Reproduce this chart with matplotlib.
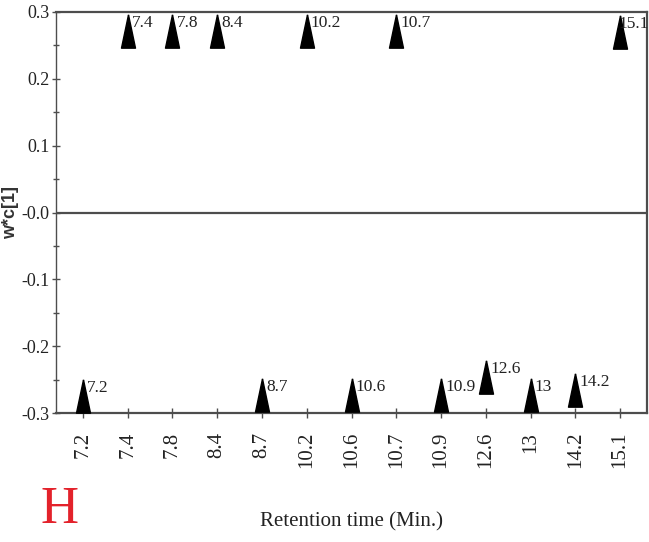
import numpy as np
import matplotlib.pyplot as plt
from matplotlib.ticker import MultipleLocator

# retention times (categories) and their w*c[1] loadings
times = ["7.2", "7.4", "7.8", "8.4", "8.7", "10.2", "10.6",
         "10.7", "10.9", "12.6", "13", "14.2", "15.1"]
loadings = [-0.274, 0.272, 0.271, 0.272, -0.273, 0.272, -0.273,
            0.272, -0.273, -0.246, -0.273, -0.265, 0.270]

serif = "Liberation Serif"
spine_col = "#4d4d4d"

fig = plt.figure(figsize=(6.49, 5.42), dpi=100)
ax = fig.add_axes([56 / 649, 1 - 413 / 542, 591 / 649, 401 / 542])

x = np.arange(len(times))

# tall narrow triangle marker
tri = [(0, 1), (-0.42, -1), (0.42, -1), (0, 1)]
ax.plot(x, loadings, linestyle="none", marker=tri, markersize=24,
        color="black", zorder=3)

for xi, val, lab in zip(x, loadings, times):
    dx = 3 if xi < len(times) - 1 else -1.5   # last one sits against the right spine
    ax.annotate(lab, (xi, val), xytext=(dx, 11.5), textcoords="offset points",
                ha="left", va="top", fontsize=12.5, family=serif,
                color="#222222", zorder=4)

ax.axhline(0, color=spine_col, lw=1.6, zorder=1)

ax.set_xlim(-0.6, 12.6)
ax.set_ylim(-0.3, 0.3)

ax.set_xticks(x)
ax.set_xticklabels(times, rotation=90, fontsize=15, family=serif)
ax.yaxis.set_major_locator(MultipleLocator(0.1))
ax.yaxis.set_minor_locator(MultipleLocator(0.05))
ax.set_yticks([0.3, 0.2, 0.1, 0.0, -0.1, -0.2, -0.3])
ax.set_yticklabels(["0.3", "0.2", "0.1", "-0.0", "-0.1", "-0.2", "-0.3"],
                   fontsize=13, family=serif)

ax.tick_params(axis="x", direction="inout", length=7, width=1, colors=spine_col,
               pad=10, labelcolor="#222222")
ax.tick_params(axis="y", which="major", direction="inout", length=6, width=1,
               colors=spine_col, pad=1.5, labelcolor="#222222")
ax.tick_params(axis="y", which="minor", direction="inout", length=4, width=1,
               colors=spine_col)

for s in ax.spines.values():
    s.set_color(spine_col)
    s.set_linewidth(1.6)
ax.spines["left"].set_linewidth(1.0)

ax.set_ylabel("w*c[1]", fontsize=13, fontweight="bold", family="Liberation Sans",
              color="#333333")
ax.yaxis.set_label_coords(-0.063, 0.5)

fig.text(352 / 649, 1 - 522 / 542, "Retention time (Min.)", ha="center",
         va="center", fontsize=15, family=serif, color="#222222")
fig.text(60 / 649, 1 - 510 / 542, "H", ha="center", va="center",
         fontsize=38, family=serif, color="#e3222b")

fig.savefig("out.png", dpi=100)
